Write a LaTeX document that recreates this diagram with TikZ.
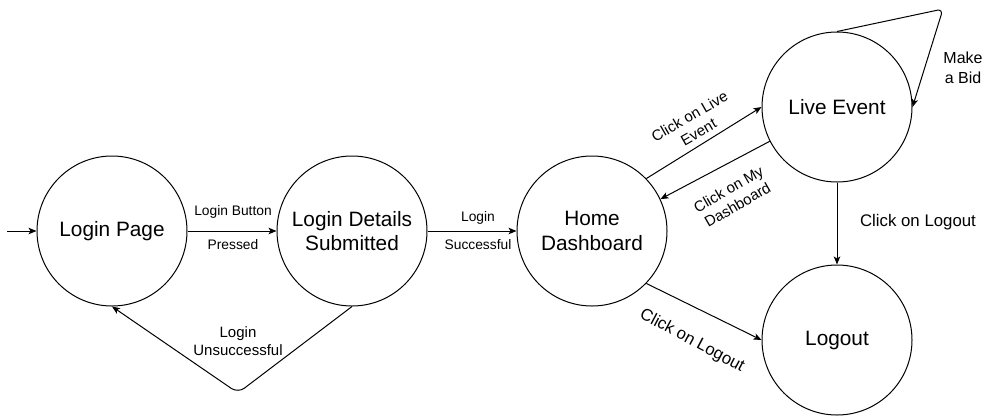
\documentclass[tikz,border=0pt]{standalone}
\usepackage{fontspec}
\setmainfont{Liberation Sans}
\usetikzlibrary{arrows.meta}
\begin{document}
\begin{tikzpicture}[x=1pt,y=-1pt,
  state/.style={circle,draw,line width=1pt,minimum size=150pt,inner sep=0pt,align=center,font=\fontsize{20.8}{24.5}\selectfont},
  arr/.style={line width=1pt,-{Stealth[length=8pt,width=6.5pt,inset=2pt]}},
  lbl/.style={inner sep=0pt,align=center},
  fsmall/.style={font=\fontsize{13.8}{16.5}\selectfont},
  fmid/.style={font=\fontsize{15}{18}\selectfont},
  fbig/.style={font=\fontsize{16.8}{19.5}\selectfont},
  fbid/.style={font=\fontsize{16}{19.5}\selectfont}
]
\useasboundingbox (0,0) rectangle (985,416);
\node[state] (lp) at (112,231) {Login Page};
\node[state] (lds) at (352,231) {Login Details\\Submitted};
\node[state] (hd) at (592,231) {Home\\Dashboard};
\node[state] (le) at (837,107) {Live Event};
\node[state] (lo) at (837,340) {Logout};

\coordinate (start) at (7,231);
\coordinate (c1) at (238,393);
\coordinate (c2) at (943,9);

\draw[arr] (start) -- (lp.west);
\draw[arr] (lp.east) -- (lds.west);
\draw[arr] (lds.east) -- (hd.west);
\draw[arr,rounded corners=8pt] (lds.south) -- (c1) -- (lp.south);
\draw[arr] (hd.44) -- (le.west);
\draw[arr] (le.207) -- (hd.25);
\draw[arr] (hd.-44) -- (lo.west);
\draw[arr] (le.south) -- (lo.north);
\draw[arr,rounded corners=6pt] (le.north) -- (c2) -- (le.east);

\node[lbl,fsmall] (t1a) at (233,212) {Login Button};
\node[lbl,fsmall] (t1b) at (233,245) {Pressed};
\node[lbl,fsmall] (t2a) at (478,218) {Login};
\node[lbl,fsmall] (t2b) at (478,245) {Successful};
\node[lbl,fmid] (t3) at (238,341) {Login\\Unsuccessful};
\node[lbl,fmid,rotate=30] (t4) at (694,124) {Click on Live\\Event};
\node[lbl,fmid,rotate=30] (t5) at (733,197) {Click on My\\Dashboard};
\node[lbl,fbig,rotate=-28] (t6) at (692,341) {Click on Logout};
\node[lbl,fbig] (t7) at (918,222) {Click on Logout};
\node[lbl,fbid] (t8) at (963,68) {Make\\a Bid};
\end{tikzpicture}
\end{document}
